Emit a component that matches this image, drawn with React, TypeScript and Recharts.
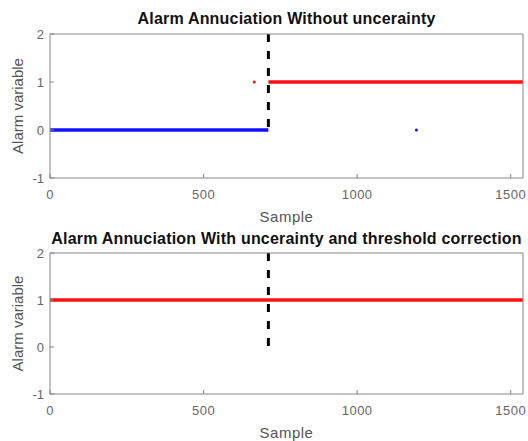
import React from 'react';
import { ComposedChart, Line, XAxis, YAxis, Label } from 'recharts';

// sample index where the alarm switches on, and the last sample shown
const ALARM_ONSET = 711;
const SAMPLE_END = 1540;

const xTicks = [0, 500, 1000, 1500];
const yTicks = [-1, 0, 1, 2];

// without uncertainty
const normalSamples = [0, ALARM_ONSET];
const normalLevel = [0, 0];
const alarmSamples = [ALARM_ONSET, SAMPLE_END];
const alarmLevel = [1, 1];
const strayRedSample = [665];
const strayRedLevel = [1];
const strayBlueSample = [1193];
const strayBlueLevel = [0];

// with uncertainty + threshold correction
const correctedSamples = [0, SAMPLE_END];
const correctedLevel = [1, 1];

const onsetSamples = [ALARM_ONSET, ALARM_ONSET];
const onsetLevel = [2, 0];

const RED = '#ff1010';
const BLUE = '#1010ff';
const AXIS = '#858585';
const TICK = '#666';
const FONT = '"Liberation Sans", Arial, sans-serif';

const toPoints = (xs: number[], ys: number[]) => xs.map((x, i) => ({ x, y: ys[i] }));

interface PanelProps {
  title: string;
  width: number;
  height: number;
  top: number;
  xAxisHeight: number;
  titleOffset: number;
  children: React.ReactNode;
}

function Panel({ title, width, height, top, xAxisHeight, titleOffset, children }: PanelProps) {
  return (
    <ComposedChart width={width} height={height} margin={{ top: top - 1, right: 4, left: 0, bottom: 0 }}>
      <XAxis
        dataKey="x"
        type="number"
        domain={[0, SAMPLE_END]}
        ticks={xTicks}
        allowDataOverflow
        height={xAxisHeight}
        stroke={AXIS}
        tickSize={-4}
        tickMargin={16}
        tick={{ fill: TICK, fontSize: 13, fontFamily: FONT, letterSpacing: 0.5 }}
      >
        <Label
          value="Sample"
          position="insideTop"
          offset={33}
          fill="#555"
          fontSize={15}
          fontFamily={FONT}
          style={{ letterSpacing: 0.5 }}
        />
      </XAxis>
      <XAxis
        xAxisId="top"
        dataKey="x"
        orientation="top"
        type="number"
        domain={[0, SAMPLE_END]}
        ticks={xTicks}
        allowDataOverflow
        height={1}
        stroke={AXIS}
        tickSize={-4}
        tick={false}
      >
        <Label
          value={title}
          position="top"
          offset={titleOffset - 1}
          fill="#111"
          fontSize={16}
          fontWeight="bold"
          fontFamily={FONT}
          style={{ letterSpacing: 0.2 }}
        />
      </XAxis>
      <YAxis
        type="number"
        domain={[-1, 2]}
        ticks={yTicks}
        width={50}
        stroke={AXIS}
        tickSize={-4}
        tickMargin={10}
        tick={{ fill: TICK, fontSize: 13, fontFamily: FONT }}
      >
        <Label
          value="Alarm variable"
          angle={-90}
          position="insideLeft"
          offset={18}
          fill="#555"
          fontSize={15}
          fontFamily={FONT}
          style={{ textAnchor: 'middle' }}
        />
      </YAxis>
      <YAxis
        yAxisId="right"
        orientation="right"
        type="number"
        domain={[-1, 2]}
        ticks={yTicks}
        allowDataOverflow
        width={1}
        stroke={AXIS}
        tickSize={-4}
        tick={false}
      />
      {children}
    </ComposedChart>
  );
}

export default function App() {
  return (
    <div style={{ position: 'absolute', left: 0, top: 0, width: 528, height: 441, background: '#fff', fontFamily: FONT }}>
      <div style={{ position: 'absolute', left: 0, top: 0 }}>
        <Panel
          title="Alarm Annuciation Without uncerainty"
          width={528}
          height={232}
          top={34}
          xAxisHeight={54}
          titleOffset={10}
        >
          <Line data={toPoints(normalSamples, normalLevel)} dataKey="y" stroke={BLUE} strokeWidth={3.5} dot={false} isAnimationActive={false} />
          <Line data={toPoints(alarmSamples, alarmLevel)} dataKey="y" stroke={RED} strokeWidth={3.5} dot={false} isAnimationActive={false} />
          <Line
            data={toPoints(strayRedSample, strayRedLevel)}
            dataKey="y"
            stroke="none"
            dot={{ r: 1.5, fill: RED, stroke: 'none' }}
            isAnimationActive={false}
          />
          <Line
            data={toPoints(strayBlueSample, strayBlueLevel)}
            dataKey="y"
            stroke="none"
            dot={{ r: 1.5, fill: BLUE, stroke: 'none' }}
            isAnimationActive={false}
          />
          <Line
            data={toPoints(onsetSamples, onsetLevel)}
            dataKey="y"
            stroke="#000"
            strokeWidth={3}
            strokeDasharray="8 9"
            dot={false}
            isAnimationActive={false}
          />
        </Panel>
      </div>
      <div style={{ position: 'absolute', left: 0, top: 222 }}>
        <Panel
          title="Alarm Annuciation With uncerainty and threshold correction"
          width={528}
          height={219}
          top={31}
          xAxisHeight={47}
          titleOffset={9.5}
        >
          <Line data={toPoints(correctedSamples, correctedLevel)} dataKey="y" stroke={RED} strokeWidth={3.5} dot={false} isAnimationActive={false} />
          <Line
            data={toPoints(onsetSamples, onsetLevel)}
            dataKey="y"
            stroke="#000"
            strokeWidth={3}
            strokeDasharray="8 9"
            dot={false}
            isAnimationActive={false}
          />
        </Panel>
      </div>
    </div>
  );
}
